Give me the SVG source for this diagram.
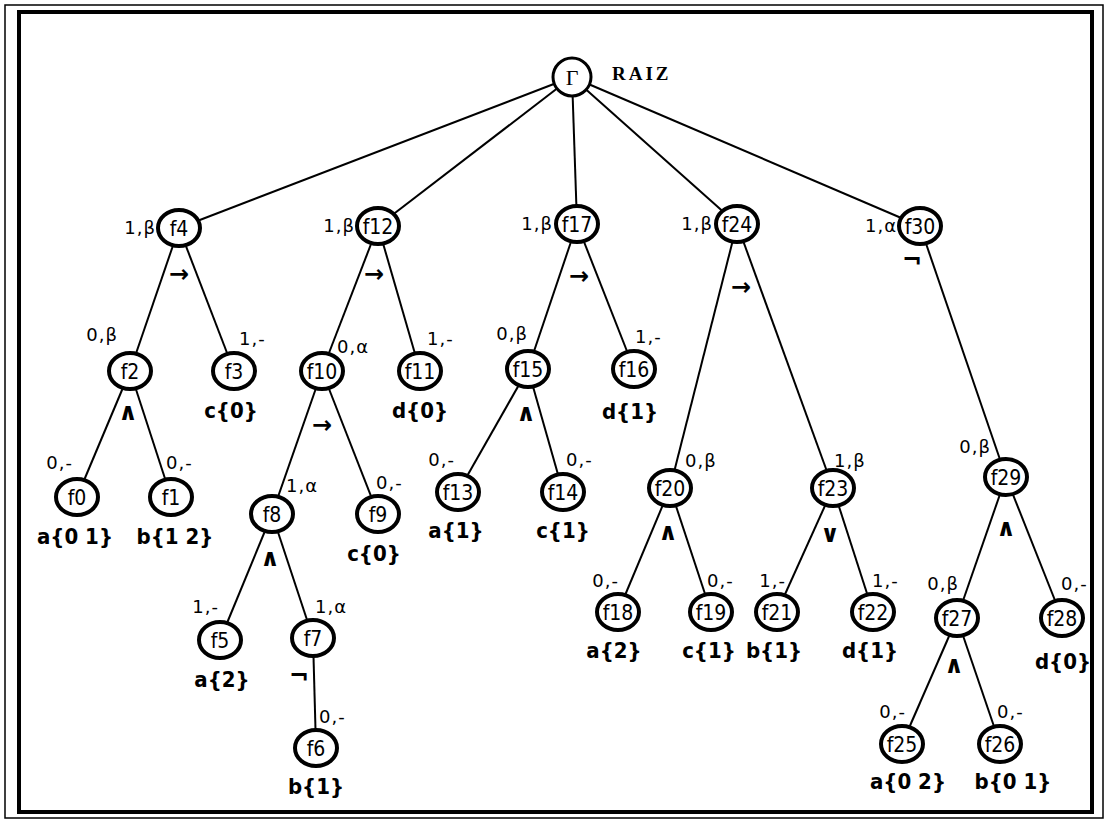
<svg xmlns="http://www.w3.org/2000/svg" width="1106" height="821" viewBox="0 0 1106 821">
  <style>
    .frame-outer { fill: none; stroke: #000; stroke-width: 1.5; }
    .frame-inner { fill: none; stroke: #000; stroke-width: 4; }
    .edges line { stroke: #000; stroke-width: 2; }
    .node ellipse { fill: #fff; stroke: #000; stroke-width: 4; }
    .node text.id { font-family: "DejaVu Sans Condensed", "DejaVu Sans", sans-serif; font-size: 21px; text-anchor: middle; fill: #000; }
    .tag { font-family: "DejaVu Sans", sans-serif; font-size: 18px; letter-spacing: 1px; fill: #000; }
    .tag.l { text-anchor: end; }
    .op { font-family: "DejaVu Sans", sans-serif; font-weight: bold; font-size: 24px; text-anchor: middle; fill: #000; }
    .leaf { font-family: "DejaVu Sans Condensed", "DejaVu Sans", sans-serif; font-weight: bold; font-size: 22px; text-anchor: middle; fill: #000; }
    .root-label { font-family: "Liberation Serif", serif; font-weight: bold; font-size: 19px; letter-spacing: 3px; fill: #000; }
  </style>

  <rect class="frame-outer" x="5" y="5" width="1098" height="813"/>
  <rect class="frame-inner" x="19" y="12" width="1073" height="800"/>

  <g id="connectors" class="edges">
    <line x1="572" y1="77" x2="179" y2="228"/>
    <line x1="572" y1="77" x2="378" y2="226"/>
    <line x1="572" y1="77" x2="577" y2="224"/>
    <line x1="572" y1="77" x2="737" y2="224"/>
    <line x1="572" y1="77" x2="920" y2="226"/>
    <line x1="179" y1="228" x2="130" y2="371"/>
    <line x1="179" y1="228" x2="234" y2="371"/>
    <line x1="378" y1="226" x2="322" y2="371"/>
    <line x1="378" y1="226" x2="420" y2="371"/>
    <line x1="577" y1="224" x2="528" y2="369"/>
    <line x1="577" y1="224" x2="634" y2="369"/>
    <line x1="737" y1="224" x2="670" y2="488"/>
    <line x1="737" y1="224" x2="833" y2="488"/>
    <line x1="920" y1="226" x2="1006" y2="477"/>
    <line x1="130" y1="371" x2="77" y2="497"/>
    <line x1="130" y1="371" x2="171" y2="497"/>
    <line x1="322" y1="371" x2="272" y2="514"/>
    <line x1="322" y1="371" x2="378" y2="514"/>
    <line x1="528" y1="369" x2="458" y2="492"/>
    <line x1="528" y1="369" x2="563" y2="492"/>
    <line x1="670" y1="488" x2="618" y2="612"/>
    <line x1="670" y1="488" x2="711" y2="612"/>
    <line x1="833" y1="488" x2="777" y2="612"/>
    <line x1="833" y1="488" x2="873" y2="612"/>
    <line x1="1006" y1="477" x2="957" y2="618"/>
    <line x1="1006" y1="477" x2="1062" y2="618"/>
    <line x1="272" y1="514" x2="220" y2="640"/>
    <line x1="272" y1="514" x2="313" y2="638"/>
    <line x1="313" y1="638" x2="316" y2="748"/>
    <line x1="957" y1="618" x2="902" y2="744"/>
    <line x1="957" y1="618" x2="1000" y2="744"/>
  </g>

  <!-- root -->
  <g id="root">
    <circle cx="572" cy="77" r="19" fill="#fff" stroke="#000" stroke-width="3"/>
    <text x="572" y="85" font-family="Liberation Serif, serif" font-size="22" text-anchor="middle">Γ</text>
    <text class="root-label" x="612" y="80">RAIZ</text>
  </g>

  <!-- level 1 -->
  <g id="f4" class="node"><ellipse cx="179" cy="228" rx="21" ry="18"/><text class="id" x="179" y="236">f4</text>
    <text class="tag l" x="156" y="234">1,β</text><text class="op" x="179" y="282">→</text></g>
  <g id="f12" class="node"><ellipse cx="378" cy="226" rx="21" ry="18"/><text class="id" x="378" y="234">f12</text>
    <text class="tag l" x="355" y="232">1,β</text><text class="op" x="374" y="282">→</text></g>
  <g id="f17" class="node"><ellipse cx="577" cy="224" rx="21" ry="18"/><text class="id" x="577" y="232">f17</text>
    <text class="tag l" x="553" y="230">1,β</text><text class="op" x="579" y="284">→</text></g>
  <g id="f24" class="node"><ellipse cx="737" cy="224" rx="21" ry="18"/><text class="id" x="737" y="232">f24</text>
    <text class="tag l" x="713" y="230">1,β</text><text class="op" x="741" y="295">→</text></g>
  <g id="f30" class="node"><ellipse cx="920" cy="226" rx="21" ry="18"/><text class="id" x="920" y="234">f30</text>
    <text class="tag l" x="897" y="232">1,α</text><text class="op" x="912" y="268">¬</text></g>

  <!-- level 2 -->
  <g id="f2" class="node"><ellipse cx="130" cy="371" rx="21" ry="18"/><text class="id" x="130" y="379">f2</text>
    <text class="tag l" x="118" y="341">0,β</text><text class="op" x="128" y="420">∧</text></g>
  <g id="f3" class="node"><ellipse cx="234" cy="371" rx="21" ry="18"/><text class="id" x="234" y="379">f3</text>
    <text class="tag" x="239" y="345">1,-</text><text class="leaf" x="231" y="418">c{0}</text></g>
  <g id="f10" class="node"><ellipse cx="322" cy="371" rx="21" ry="18"/><text class="id" x="322" y="379">f10</text>
    <text class="tag" x="337" y="353">0,α</text><text class="op" x="322" y="433">→</text></g>
  <g id="f11" class="node"><ellipse cx="420" cy="371" rx="21" ry="18"/><text class="id" x="420" y="379">f11</text>
    <text class="tag" x="427" y="345">1,-</text><text class="leaf" x="420" y="418">d{0}</text></g>
  <g id="f15" class="node"><ellipse cx="528" cy="369" rx="21" ry="18"/><text class="id" x="528" y="377">f15</text>
    <text class="tag l" x="528" y="340">0,β</text><text class="op" x="526" y="421">∧</text></g>
  <g id="f16" class="node"><ellipse cx="634" cy="369" rx="21" ry="18"/><text class="id" x="634" y="377">f16</text>
    <text class="tag" x="635" y="343">1,-</text><text class="leaf" x="630" y="419">d{1}</text></g>

  <!-- level 3 -->
  <g id="f0" class="node"><ellipse cx="77" cy="497" rx="21" ry="18"/><text class="id" x="77" y="505">f0</text>
    <text class="tag l" x="73" y="469">0,-</text><text class="leaf" x="75" y="544">a{0 1}</text></g>
  <g id="f1" class="node"><ellipse cx="171" cy="497" rx="21" ry="18"/><text class="id" x="171" y="505">f1</text>
    <text class="tag" x="166" y="469">0,-</text><text class="leaf" x="175" y="544">b{1 2}</text></g>
  <g id="f8" class="node"><ellipse cx="272" cy="514" rx="21" ry="18"/><text class="id" x="272" y="522">f8</text>
    <text class="tag" x="286" y="492">1,α</text><text class="op" x="270" y="566">∧</text></g>
  <g id="f9" class="node"><ellipse cx="378" cy="514" rx="21" ry="18"/><text class="id" x="378" y="522">f9</text>
    <text class="tag" x="376" y="489">0,-</text><text class="leaf" x="374" y="561">c{0}</text></g>
  <g id="f13" class="node"><ellipse cx="458" cy="492" rx="21" ry="18"/><text class="id" x="458" y="500">f13</text>
    <text class="tag l" x="455" y="466">0,-</text><text class="leaf" x="456" y="538">a{1}</text></g>
  <g id="f14" class="node"><ellipse cx="563" cy="492" rx="21" ry="18"/><text class="id" x="563" y="500">f14</text>
    <text class="tag" x="566" y="466">0,-</text><text class="leaf" x="563" y="538">c{1}</text></g>
  <g id="f20" class="node"><ellipse cx="670" cy="488" rx="21" ry="18"/><text class="id" x="670" y="496">f20</text>
    <text class="tag" x="685" y="467">0,β</text><text class="op" x="668" y="540">∧</text></g>
  <g id="f23" class="node"><ellipse cx="833" cy="488" rx="21" ry="18"/><text class="id" x="833" y="496">f23</text>
    <text class="tag" x="834" y="467">1,β</text><text class="op" x="830" y="542">∨</text></g>
  <g id="f29" class="node"><ellipse cx="1006" cy="477" rx="21" ry="18"/><text class="id" x="1006" y="485">f29</text>
    <text class="tag l" x="991" y="453">0,β</text><text class="op" x="1006" y="536">∧</text></g>

  <!-- level 4 -->
  <g id="f5" class="node"><ellipse cx="220" cy="640" rx="21" ry="18"/><text class="id" x="220" y="648">f5</text>
    <text class="tag l" x="219" y="613">1,-</text><text class="leaf" x="222" y="687">a{2}</text></g>
  <g id="f7" class="node"><ellipse cx="313" cy="638" rx="21" ry="18"/><text class="id" x="313" y="646">f7</text>
    <text class="tag" x="315" y="613">1,α</text><text class="op" x="299" y="684">¬</text></g>
  <g id="f18" class="node"><ellipse cx="618" cy="612" rx="21" ry="18"/><text class="id" x="618" y="620">f18</text>
    <text class="tag l" x="619" y="587">0,-</text><text class="leaf" x="614" y="658">a{2}</text></g>
  <g id="f19" class="node"><ellipse cx="711" cy="612" rx="21" ry="18"/><text class="id" x="711" y="620">f19</text>
    <text class="tag" x="707" y="587">0,-</text><text class="leaf" x="709" y="658">c{1}</text></g>
  <g id="f21" class="node"><ellipse cx="777" cy="612" rx="21" ry="18"/><text class="id" x="777" y="620">f21</text>
    <text class="tag l" x="786" y="587">1,-</text><text class="leaf" x="774" y="658">b{1}</text></g>
  <g id="f22" class="node"><ellipse cx="873" cy="612" rx="21" ry="18"/><text class="id" x="873" y="620">f22</text>
    <text class="tag" x="872" y="587">1,-</text><text class="leaf" x="870" y="658">d{1}</text></g>
  <g id="f27" class="node"><ellipse cx="957" cy="618" rx="21" ry="18"/><text class="id" x="957" y="626">f27</text>
    <text class="tag l" x="959" y="590">0,β</text><text class="op" x="954" y="673">∧</text></g>
  <g id="f28" class="node"><ellipse cx="1062" cy="618" rx="21" ry="18"/><text class="id" x="1062" y="626">f28</text>
    <text class="tag" x="1061" y="590">0,-</text><text class="leaf" x="1063" y="669">d{0}</text></g>

  <!-- level 5 -->
  <g id="f6" class="node"><ellipse cx="316" cy="748" rx="21" ry="18"/><text class="id" x="316" y="756">f6</text>
    <text class="tag" x="319" y="723">0,-</text><text class="leaf" x="316" y="794">b{1}</text></g>
  <g id="f25" class="node"><ellipse cx="902" cy="744" rx="21" ry="18"/><text class="id" x="902" y="752">f25</text>
    <text class="tag l" x="906" y="718">0,-</text><text class="leaf" x="908" y="789">a{0 2}</text></g>
  <g id="f26" class="node"><ellipse cx="1000" cy="744" rx="21" ry="18"/><text class="id" x="1000" y="752">f26</text>
    <text class="tag" x="997" y="718">0,-</text><text class="leaf" x="1013" y="789">b{0 1}</text></g>
</svg>
